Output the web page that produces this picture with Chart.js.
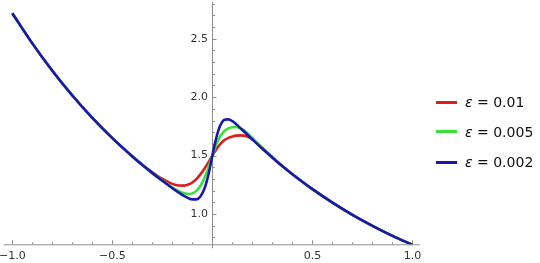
<!DOCTYPE html>
<html>
<head>
<meta charset="utf-8">
<script src="https://cdn.jsdelivr.net/npm/chart.js@4.4.1/dist/chart.umd.min.js"></script>
<style>
  html, body { margin: 0; padding: 0; background: #fff; }
  #wrap { position: relative; width: 540px; height: 263px; }
  #chart { position: absolute; left: 0; top: 0; }
  .leg-line { position: absolute; left: 436px; width: 21px; height: 3px; }
  .leg-text {
    position: absolute; left: 465px; height: 20px; line-height: 20px;
    font-family: 'DejaVu Sans', sans-serif; font-size: 14px; color: #111; white-space: nowrap;
  }
</style>
</head>
<body>
<div id="wrap">
  <canvas id="chart" width="540" height="263"></canvas>
  <div id="legend"></div>
</div>
<script>
'use strict';

// ─── Datos ───────────────────────────────────────────────────────────────────
const xs = [-1, -0.9, -0.8, -0.7, -0.6, -0.5, -0.4, -0.35, -0.3, -0.25, -0.2, -0.17, -0.14, -0.12,
  -0.1, -0.08, -0.06, -0.04, -0.03, -0.02, -0.01, 0, 0.01, 0.02, 0.03, 0.04, 0.06, 0.08, 0.1,
  0.12, 0.14, 0.17, 0.2, 0.25, 0.3, 0.35, 0.4, 0.5, 0.6, 0.7, 0.8, 0.9, 1.0];

const yRed = [2.718, 2.460, 2.226, 2.014, 1.822, 1.649, 1.494, 1.422, 1.357, 1.300, 1.258, 1.244, 1.243, 1.252,
  1.270, 1.298, 1.339, 1.387, 1.414, 1.442, 1.471, 1.500, 1.528, 1.555, 1.579, 1.600, 1.632, 1.652, 1.664,
  1.671, 1.673, 1.665, 1.640, 1.566, 1.487, 1.410, 1.341, 1.213, 1.098, 0.993, 0.899, 0.813, 0.736];

const yGreen = [2.718, 2.460, 2.226, 2.014, 1.822, 1.649, 1.492, 1.419, 1.350, 1.286, 1.227, 1.198, 1.177, 1.171,
  1.177, 1.198, 1.240, 1.307, 1.350, 1.397, 1.448, 1.500, 1.551, 1.598, 1.636, 1.667, 1.710, 1.733, 1.743,
  1.744, 1.732, 1.700, 1.650, 1.563, 1.484, 1.409, 1.341, 1.213, 1.098, 0.993, 0.899, 0.813, 0.736];

const yBlue = [2.718, 2.460, 2.226, 2.014, 1.822, 1.649, 1.492, 1.419, 1.350, 1.284, 1.221, 1.186, 1.154, 1.136,
  1.125, 1.125, 1.150, 1.216, 1.269, 1.336, 1.415, 1.500, 1.583, 1.656, 1.716, 1.760, 1.806, 1.810, 1.794,
  1.767, 1.735, 1.687, 1.638, 1.558, 1.482, 1.409, 1.341, 1.213, 1.098, 0.993, 0.899, 0.813, 0.736];

const seriesLabels = ['0.01', '0.005', '0.002'];
const xTickValues = [-1, -0.5, 0.5, 1];
const yTickValues = [1.0, 1.5, 2.0, 2.5];

// ─── Estilos ─────────────────────────────────────────────────────────────────
const COLORS = ['#d82020', '#38e038', '#1818b0'];
const AXIS_COLOR = '#8f8f8f';
const LABEL_FONT = "11px 'DejaVu Sans', sans-serif";
const LABEL_COLOR = '#333';

const fmtTick = v => (v < 0 ? '\u2212' : '') + Math.abs(v).toFixed(1);

const toPoints = ys => xs.map((x, i) => ({ x, y: ys[i] }));

// Ejes estilo Mathematica: ticks hacia dentro, eje y en x = 0, etiquetas a mano
const axesPlugin = {
  id: 'axesPlugin',
  beforeDatasetsDraw(chart) {
    const { ctx, chartArea, scales: { x, y } } = chart;
    const y0 = chartArea.bottom;
    const x0 = Math.round(x.getPixelForValue(0)) + 0.5;
    ctx.save();
    ctx.strokeStyle = AXIS_COLOR;
    ctx.lineWidth = 1;
    ctx.beginPath();
    ctx.moveTo(chartArea.left, y0 + 0.5);
    ctx.lineTo(chartArea.right, y0 + 0.5);
    ctx.moveTo(x0, chartArea.top);
    ctx.lineTo(x0, y0 + 4);
    for (let i = -10; i <= 10; i++) {
      const px = Math.round(x.getPixelForValue(i / 10)) + 0.5;
      const len = i % 5 === 0 ? 4 : 2;
      ctx.moveTo(px, y0);
      ctx.lineTo(px, y0 - len);
    }
    for (let i = 8; i <= 28; i++) {
      const py = Math.round(y.getPixelForValue(i / 10)) + 0.5;
      const len = i % 5 === 0 ? 4 : 2.5;
      ctx.moveTo(x0, py);
      ctx.lineTo(x0 + len, py);
    }
    ctx.stroke();

    ctx.fillStyle = LABEL_COLOR;
    ctx.font = LABEL_FONT;
    ctx.textAlign = 'center';
    ctx.textBaseline = 'middle';
    xTickValues.forEach(v => ctx.fillText(fmtTick(v), x.getPixelForValue(v), y0 + 12));
    ctx.textAlign = 'right';
    yTickValues.forEach(v => ctx.fillText(fmtTick(v), x0 - 4.5, y.getPixelForValue(v)));
    ctx.restore();
  },
};

new Chart(document.getElementById('chart'), {
  type: 'line',
  data: {
    datasets: [yRed, yGreen, yBlue].map((ys, i) => ({
      label: '\u03b5 = ' + seriesLabels[i],
      data: toPoints(ys),
      borderColor: COLORS[i],
      borderWidth: 2.6,
      pointRadius: 0,
      fill: false,
      cubicInterpolationMode: 'monotone',
      order: 3 - i,
    })),
  },
  options: {
    responsive: false,
    animation: false,
    layout: { padding: { left: 3.5, right: 120, top: 2, bottom: 18.7 } },
    plugins: { legend: { display: false }, tooltip: { enabled: false } },
    scales: {
      x: {
        type: 'linear',
        min: -1.044,
        max: 1.0375,
        grid: { display: false, drawTicks: false },
        border: { display: false },
        ticks: { display: false },
      },
      y: {
        type: 'linear',
        position: { x: 0 },
        min: 0.741,
        max: 2.814,
        grid: { display: false, drawTicks: false },
        border: { display: false },
        ticks: { display: false },
      },
    },
  },
  plugins: [axesPlugin],
});

// ─── Leyenda HTML (ε en cursiva) ─────────────────────────────────────────────
const legendRowsY = [102, 131.5, 162];
const legend = document.getElementById('legend');
seriesLabels.forEach((lbl, i) => {
  const line = document.createElement('div');
  line.className = 'leg-line';
  line.style.top = (legendRowsY[i] - 1.5) + 'px';
  line.style.background = COLORS[i];
  const txt = document.createElement('div');
  txt.className = 'leg-text';
  txt.style.top = (legendRowsY[i] - 10) + 'px';
  txt.innerHTML = '<i>\u03b5</i> = ' + lbl;
  legend.appendChild(line);
  legend.appendChild(txt);
});
</script>
</body>
</html>
